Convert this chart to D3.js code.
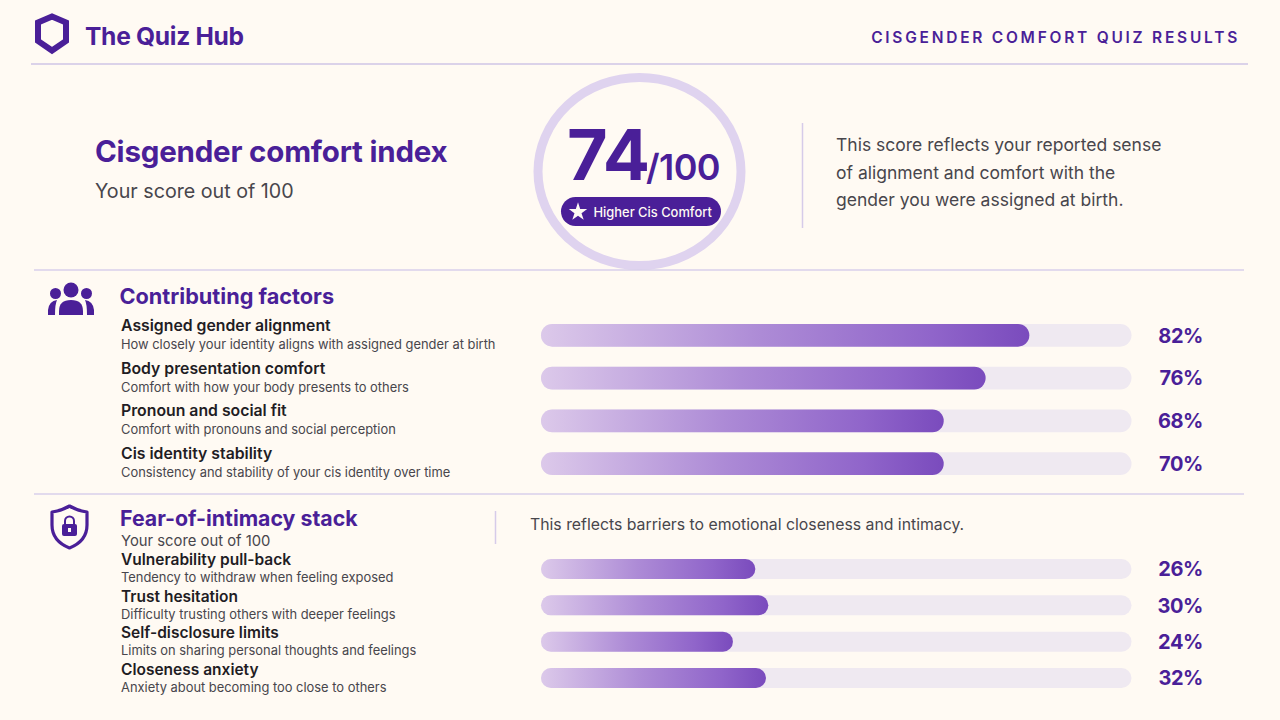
<!DOCTYPE html>
<html>
<head>
<meta charset="utf-8">
<script src="https://cdn.jsdelivr.net/npm/d3@7"></script>
<style>
  html, body { margin: 0; padding: 0; background: #fffaf3; }
  svg { display: block; }
  text { font-family: Inter, "Noto Sans", sans-serif; }
</style>
</head>
<body>
<script>
// factors, top block
const factorNames = ["Assigned gender alignment", "Body presentation comfort", "Pronoun and social fit", "Cis identity stability"];
const factorNotes = ["How closely your identity aligns with assigned gender at birth", "Comfort with how your body presents to others", "Comfort with pronouns and social perception", "Consistency and stability of your cis identity over time"];
const factorLabels = ["82%", "76%", "68%", "70%"];
const factorBars = [82.7, 75.3, 68.2, 68.2]; // drawn length (not the same as the labels)

// fear of intimacy, bottom block
const fearNames = ["Vulnerability pull-back", "Trust hesitation", "Self-disclosure limits", "Closeness anxiety"];
const fearNotes = ["Tendency to withdraw when feeling exposed", "Difficulty trusting others with deeper feelings", "Limits on sharing personal thoughts and feelings", "Anxiety about becoming too close to others"];
const fearLabels = ["26%", "30%", "24%", "32%"];
const fearBars = [36.3, 38.5, 32.5, 38.1];

const blurbLines = ["This score reflects your reported sense", "of alignment and comfort with the", "gender you were assigned at birth."];

const width = 1280, height = 720;
const purple = "#4a1f98";

const svg = d3.select("body").append("svg")
  .attr("viewBox", [0, 0, width, height])
  .attr("width", width)
  .attr("height", height);

svg.append("rect").attr("width", width).attr("height", height).attr("fill", "#fffaf3");

const defs = svg.append("defs");

// small helper, most of the page is just text
function label(x, y, str, size, weight, fill, anchor) {
  return svg.append("text")
    .attr("x", x).attr("y", y)
    .attr("font-size", size)
    .attr("font-weight", weight)
    .attr("fill", fill)
    .attr("text-anchor", anchor || "start")
    .text(str);
}

function rule(x1, x2, y1, y2, color, w) {
  svg.append("line").attr("x1", x1).attr("x2", x2).attr("y1", y1).attr("y2", y2)
    .attr("stroke", color).attr("stroke-width", w);
}

// header
svg.append("path")
  .attr("d", "M52 16.5 L66 22.5 L66 41 L52 50.5 L38 41 L38 22.5 Z")
  .attr("fill", "none").attr("stroke", purple).attr("stroke-width", 6).attr("stroke-linejoin", "miter");
label(85, 45, "The Quiz Hub", 24.6, 700, purple).attr("letter-spacing", -0.3);
label(1240, 43, "CISGENDER COMFORT QUIZ RESULTS", 15.5, 600, purple, "end").attr("letter-spacing", 2.75);
rule(31, 1248, 64, 64, "#cfc4e6", 1.5);

// score block
label(95, 162, "Cisgender comfort index", 29.5, 700, purple).attr("letter-spacing", -0.2);
label(95, 198, "Your score out of 100", 19.7, 400, "#48464c");

svg.append("ellipse").attr("cx", 639.5).attr("cy", 171.5).attr("rx", 101.5).attr("ry", 94)
  .attr("fill", "#fffaf3").attr("stroke", "#dfd3ef").attr("stroke-width", 9);
label(567, 180, "74", 70, 700, purple).attr("letter-spacing", -1);
label(646, 180, "/100", 36, 600, purple).attr("letter-spacing", -0.6);

svg.append("rect").attr("x", 561).attr("y", 197).attr("width", 160).attr("height", 29).attr("rx", 14.5).attr("fill", purple);
svg.append("path")
  .attr("d", d3.symbol(d3.symbolStar, 105)())
  .attr("transform", "translate(578,212)")
  .attr("fill", "#fffaf3");
label(593.5, 217, "Higher Cis Comfort", 12.9, 500, "#fffaf3");

rule(802.5, 802.5, 123, 228, "#d6cbe9", 1.5);
svg.selectAll(".blurb").data(blurbLines).join("text")
  .attr("class", "blurb")
  .attr("x", 836)
  .attr("y", (d, i) => 151 + i * 27.5)
  .attr("font-size", 17.5)
  .attr("fill", "#48464c")
  .text(d => d);

rule(34, 1244, 270, 270, "#d9cfeb", 1.5);
rule(34, 1244, 494, 494, "#d9cfeb", 1.5);

// people icon
const people = svg.append("g").attr("fill", purple);
people.append("circle").attr("cx", 71).attr("cy", 290).attr("r", 7.5);
people.append("circle").attr("cx", 55.5).attr("cy", 293.5).attr("r", 5.5);
people.append("circle").attr("cx", 86.5).attr("cy", 293.5).attr("r", 5.5);
people.append("path").attr("d", "M59 315 L59 311 Q59 300 71 300 Q83 300 83 311 L83 315 Z");
people.append("path").attr("d", "M48 315 L48 310 Q49 301 57 300 Q55 304 55 315 Z");
people.append("path").attr("d", "M94 315 L94 310 Q93 301 85 300 Q87 304 87 315 Z");

label(119.5, 304, "Contributing factors", 21.7, 700, purple);

// lock shield icon
svg.append("path")
  .attr("d", "M69.5 506 Q78 511 87 512 L87 525 Q87 541 69.5 548 Q52 541 52 525 L52 512 Q61 511 69.5 506 Z")
  .attr("fill", "none").attr("stroke", purple).attr("stroke-width", 3.2).attr("stroke-linejoin", "round");
svg.append("path").attr("d", "M65 525 L65 521 A4.5 4.5 0 0 1 74 521 L74 525").attr("fill", "none").attr("stroke", purple).attr("stroke-width", 2);
svg.append("rect").attr("x", 62).attr("y", 524).attr("width", 15).attr("height", 12).attr("rx", 2).attr("fill", purple);
svg.append("rect").attr("x", 68).attr("y", 528).attr("width", 3).attr("height", 4).attr("fill", "#fffaf3");

label(120, 526, "Fear-of-intimacy stack", 21.3, 700, purple);
label(121, 546, "Your score out of 100", 14.8, 400, "#48464c");
rule(495.5, 495.5, 511, 544, "#d6cbe9", 1.5);
label(530, 530, "This reflects barriers to emotional closeness and intimacy.", 15.8, 400, "#48464c");

// bars share the same x scale, 0-100 over the track
const x = d3.scaleLinear().domain([0, 100]).range([541, 1131.5]);

const grad = defs.append("linearGradient").attr("id", "barFill")
  .attr("x1", "0%").attr("x2", "100%").attr("y1", "0%").attr("y2", "0%");
grad.selectAll("stop")
  .data([["0%", "#dcc9ea"], ["45%", "#ad8bd6"], ["80%", "#9065ca"], ["100%", "#7a4bbd"]])
  .join("stop")
  .attr("offset", d => d[0])
  .attr("stop-color", d => d[1]);

function barBlock(names, notes, labels, bars, opt) {
  const y = d3.scaleBand().domain(names).range(opt.yRange).paddingInner(opt.pad);
  const rows = svg.append("g").selectAll("g").data(names).join("g");

  rows.append("rect")
    .attr("x", x(0)).attr("y", d => y(d))
    .attr("width", x(100) - x(0)).attr("height", y.bandwidth())
    .attr("rx", y.bandwidth() / 2)
    .attr("fill", "#efe9f1");

  rows.append("rect")
    .attr("x", x(0)).attr("y", d => y(d))
    .attr("width", (d, i) => x(bars[i]) - x(0)).attr("height", y.bandwidth())
    .attr("rx", y.bandwidth() / 2)
    .attr("fill", "url(#barFill)");

  rows.append("text")
    .attr("x", 1203).attr("y", d => y(d) + y.bandwidth() / 2 + 7.2)
    .attr("text-anchor", "end")
    .attr("font-size", 20).attr("font-weight", 700).attr("fill", purple)
    .attr("letter-spacing", -0.4)
    .text((d, i) => labels[i]);

  rows.append("text")
    .attr("x", 121).attr("y", d => y(d) + y.bandwidth() / 2 + opt.nameDy)
    .attr("font-size", opt.nameSize).attr("font-weight", 600).attr("fill", "#1f1d24")
    .text(d => d);

  rows.append("text")
    .attr("x", 121).attr("y", d => y(d) + y.bandwidth() / 2 + opt.noteDy)
    .attr("font-size", 12.9).attr("fill", "#48464c")
    .text((d, i) => notes[i]);
}

barBlock(factorNames, factorNotes, factorLabels, factorBars,
  { yRange: [324, 475], pad: 0.47, nameDy: -4.5, noteDy: 13.5, nameSize: 15.8 });
barBlock(fearNames, fearNotes, fearLabels, fearBars,
  { yRange: [559, 688], pad: 0.45, nameDy: -3.5, noteDy: 13.5, nameSize: 15.5 });
</script>
</body>
</html>
